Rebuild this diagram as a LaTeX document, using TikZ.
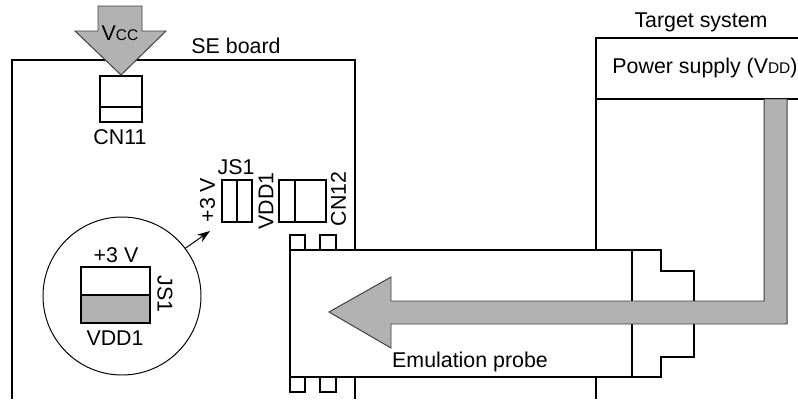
\documentclass[tikz,border=0pt]{standalone}
\usepackage{fontspec}
\setmainfont{Liberation Sans}
\usetikzlibrary{arrows.meta}
\def\lowtext#1{{\fontsize{11}{13}\selectfont #1}}
\tikzset{
	wire/.style={line width=2.1pt, line join=miter},
	thinline/.style={line width=0.7pt},
	bigarrow/.style={line width=0.7pt, color=black!75, fill=black!30},
	lbl/.style={inner sep=0pt, font=\fontsize{15.2}{18}\selectfont}
}

\begin{document}
\begin{tikzpicture}
			%%%%% START %%%%%
			\useasboundingbox (0, 0) rectangle (19.95, 9.975);
			
			%%%%% board %%%%%
			\draw[wire] (0.3, 0) -- (0.3, 8.475) -- (8.875, 8.475) -- (8.875, 3.725);
			\draw[wire] (8.875, 0.55) -- (8.875, 0);
			
			%%%%% target system %%%%%
			\draw[wire] (19.95, 9.025) -- (14.9, 9.025) -- (14.9, 3.725);
			\draw[wire] (14.9, 7.5) -- (19.95, 7.5);
			\draw[wire] (14.9, 0.55) -- (14.9, 0);
			
			%%%%% connectors %%%%%
			\draw[wire] (2.5, 8.075) rectangle (3.55, 6.925);
			\draw[wire] (2.5, 7.3) -- (3.55, 7.3);
			\draw[wire] (5.55, 5.475) rectangle (6.3, 4.425);
			\draw[wire] (5.925, 5.475) -- (5.925, 4.425);
			\draw[wire] (6.975, 5.475) rectangle (8.15, 4.425);
			\draw[wire] (7.375, 5.475) -- (7.375, 4.425);
			
			%%%%% probe %%%%%
			\draw[wire] (7.25, 3.725) -- (7.25, 4.1) -- (7.625, 4.1) -- (7.625, 3.725);
			\draw[wire] (8, 3.725) -- (8, 4.1) -- (8.4, 4.1) -- (8.4, 3.725);
			\draw[wire] (7.25, 0.55) -- (7.25, 0.175) -- (7.625, 0.175) -- (7.625, 0.55);
			\draw[wire] (8, 0.55) -- (8, 0.175) -- (8.4, 0.175) -- (8.4, 0.55);
			\draw[wire] (17.35, 2.45) -- (17.35, 3.2) -- (16.525, 3.2) -- (16.525, 3.725) -- (7.25, 3.725) -- (7.25, 0.55) -- (16.525, 0.55) -- (16.525, 1.05) -- (17.35, 1.05) -- (17.35, 1.875);
			\draw[wire] (15.8, 3.725) -- (15.8, 2.45);
			\draw[wire] (15.8, 1.875) -- (15.8, 0.55);
			
			%%%%% arrows %%%%%
			\draw[bigarrow] (2.45, 9.825) -- (3.55, 9.825) -- (3.55, 9.2) -- (4.15, 9.2) -- (3.025, 8.1) -- (1.875, 9.2) -- (2.45, 9.2) -- cycle;
			\draw[bigarrow] (19.1, 7.5) -- (19.675, 7.5) -- (19.675, 1.875) -- (9.775, 1.875) -- (9.775, 1.275) -- (8.225, 2.175) -- (9.775, 3.05) -- (9.775, 2.45) -- (19.1, 2.45) -- cycle;
			
			%%%%% jumper detail %%%%%
			\node[draw, thinline, circle, inner sep=0pt, minimum size=3.95cm] (detail) at (3.05, 2.575) {};
			\coordinate (jumper) at (5.25, 4.2);
			\draw[thinline, -{Stealth[length=3.2mm, width=2.2mm]}] (detail.37) -- (jumper);
			\draw[wire] (2.025, 3.3) rectangle (3.75, 2.6);
			\draw[wire, fill=black!30] (2.025, 2.6) rectangle (3.75, 1.9);
			
			%%%%% labels %%%%%
			\node[lbl] (vcc) at (3, 9.15) {V\lowtext{CC}};
			\node[lbl] (seboard) at (5.9, 8.825) {SE board};
			\node[lbl] (cn11) at (3, 6.55) {CN11};
			\node[lbl] (js1) at (5.9, 5.79) {JS1};
			\node[lbl, rotate=90] (plus3) at (5.19, 4.975) {+3 V};
			\node[lbl, rotate=90] (vdd1) at (6.65, 4.95) {VDD1};
			\node[lbl, rotate=90] (cn12) at (8.46, 5) {CN12};
			\node[lbl] (detailplus) at (2.9, 3.6) {+3 V};
			\node[lbl] (detailvdd) at (2.875, 1.525) {VDD1};
			\node[lbl, rotate=-90] (detailjs) at (4.125, 2.625) {JS1};
			\node[lbl] (target) at (17.525, 9.41) {Target system};
			\node[lbl] (power) at (17.625, 8.275) {Power supply (V\lowtext{DD})};
			\node[lbl] (probe) at (11.75, 0.925) {Emulation probe};
			%%%%% END %%%%%
		\end{tikzpicture}
\end{document}
